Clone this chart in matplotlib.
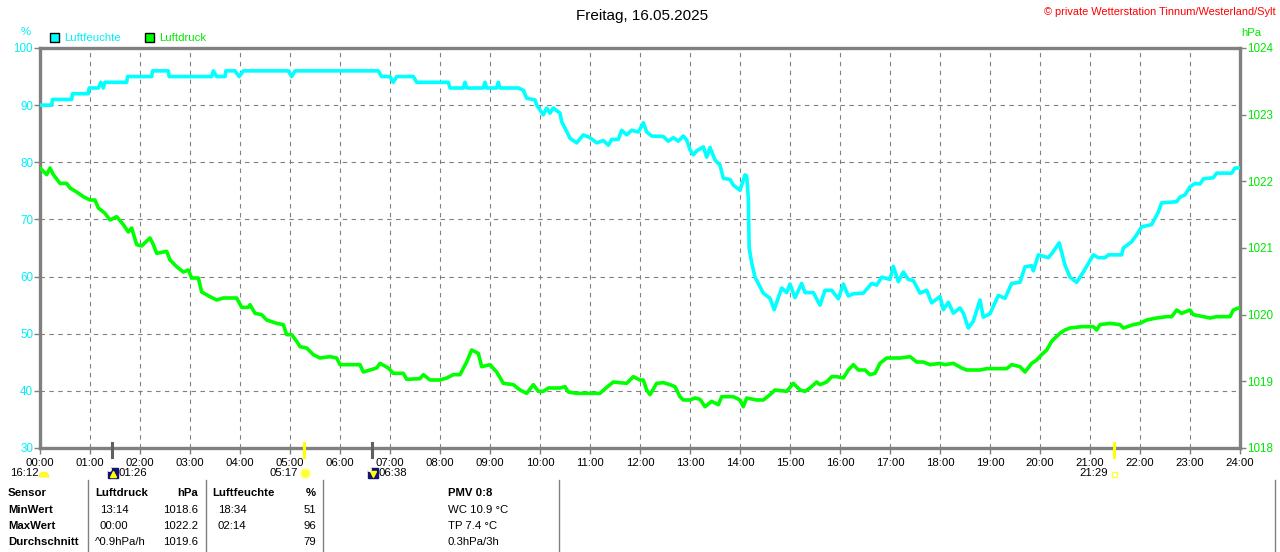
#!/usr/bin/env python3
# Wetterstation Tinnum - Tagesverlauf Luftfeuchte / Luftdruck, 16.05.2025
import matplotlib
matplotlib.use("Agg")
import matplotlib.pyplot as plt
import matplotlib.transforms as mtransforms
from matplotlib.patches import Rectangle, Wedge

plt.rcParams["font.family"] = ["Liberation Sans", "DejaVu Sans"]

# --- data (time in minutes after midnight) ---
hum_t = [0, 14, 15, 38, 39, 58, 59, 70, 73, 76, 78, 104, 105, 134, 135, 154, 155, 206, 208, 212,
         222, 223, 234, 239, 244, 298, 302, 306, 406, 410, 420, 424, 428, 448, 452, 490,
         492, 508, 510, 512, 532, 534, 536, 548, 550, 552, 574, 580, 584, 594, 596, 604,
         608, 612, 616, 624, 626, 632, 636, 644, 652, 660, 668, 676, 682, 686, 694, 698,
         704, 710, 718, 724, 728, 734, 748, 754, 760, 766, 772, 776, 780, 784, 788, 796,
         800, 804, 810, 816, 820, 828, 832, 840, 846, 848, 850, 851, 854, 858, 864, 868,
         876, 881, 890, 896, 900, 906, 914, 918, 928, 936, 942, 950, 958, 964, 970, 976,
         988, 998, 1004, 1010, 1020, 1024, 1030, 1036, 1042, 1048, 1056, 1064, 1070, 1080, 1084, 1090,
         1096, 1104, 1108, 1114, 1120, 1128, 1132, 1140, 1150, 1158, 1166, 1176, 1182, 1190, 1192, 1198,
         1210, 1214, 1223, 1230, 1236, 1244, 1252, 1264, 1270, 1278, 1282, 1298, 1300, 1310, 1316, 1322,
         1334, 1342, 1346, 1364, 1368, 1374, 1380, 1386, 1392, 1396, 1408, 1412, 1430, 1434, 1440]
hum_v = [90, 90, 91, 91, 92, 92, 93, 93, 94, 93, 94, 94, 95, 95, 96, 96, 95, 95, 96, 95,
         95, 96, 96, 95, 96, 96, 95, 96, 96, 95, 95, 94, 95, 95, 94, 94,
         93, 93, 94, 93, 93, 94, 93, 93, 94, 93, 93, 92.6, 91.2, 90.9, 90, 88.3,
         89.5, 88.6, 89.5, 88.6, 87.1, 85.4, 84.2, 83.4, 84.8, 84.3, 83.4, 83.8, 83.0, 84.0, 84.0, 85.6,
         84.8, 85.6, 85.3, 86.9, 85.3, 84.6, 84.5, 83.7, 84.3, 83.7, 84.6, 83.9, 82.2, 81.3, 82.0, 82.7,
         80.9, 82.6, 80.4, 79.5, 77.2, 77.0, 76.0, 75.1, 77.8, 77.6, 73.7, 65.0, 62.4, 59.9, 58.2, 57.1,
         56.2, 54.2, 58.0, 57.2, 58.7, 56.3, 58.8, 57.2, 57.2, 55.0, 57.6, 57.6, 56.1, 58.7, 56.6, 57.0,
         57.1, 58.8, 58.5, 59.9, 59.5, 61.8, 59.1, 60.8, 59.5, 59.3, 57.1, 57.6, 55.4, 56.5, 54.2, 55.5,
         53.6, 54.5, 53.6, 51.0, 52.2, 55.9, 52.9, 53.5, 56.7, 56.2, 58.8, 59.0, 61.7, 61.9, 61.0, 63.8,
         63.3, 64.0, 65.9, 62.0, 59.9, 59.0, 60.8, 63.8, 63.3, 63.3, 63.8, 63.8, 65.0, 66.1, 67.3, 68.7,
         69.1, 71.3, 72.9, 73.1, 73.9, 74.3, 75.7, 76.3, 76.2, 77.1, 77.3, 78.1, 78.1, 79.0, 79.0]

pres_t = [0, 8, 12, 16, 24, 32, 36, 44, 52, 60, 66, 70, 78, 84, 92, 100,
          106, 110, 116, 122, 126, 132, 136, 140, 152, 156, 164, 172, 178, 182, 190, 194,
          204, 212, 220, 228, 236, 242, 250, 252, 258, 266, 272, 284, 292, 296, 302, 308,
          312, 320, 328, 336, 348, 356, 360, 372, 384, 388, 404, 408, 418, 424, 436, 440,
          456, 460, 468, 480, 488, 496, 504, 512, 518, 526, 530, 540, 548, 556, 568, 576,
          584, 592, 598, 604, 610, 624, 630, 634, 644, 672, 680, 688, 704, 712, 720, 724,
          728, 732, 740, 748, 756, 762, 768, 772, 780, 786, 792, 798, 806, 814, 818, 832,
          840, 844, 848, 860, 868, 876, 882, 896, 904, 912, 918, 924, 932, 936, 944, 950,
          956, 964, 970, 976, 982, 990, 996, 1002, 1008, 1016, 1032, 1044, 1052, 1060, 1068, 1080,
          1086, 1096, 1106, 1112, 1128, 1136, 1148, 1160, 1166, 1176, 1182, 1190, 1196, 1202, 1208, 1214,
          1218, 1224, 1230, 1236, 1250, 1264, 1268, 1272, 1284, 1296, 1300, 1312, 1320, 1328, 1340, 1352,
          1358, 1364, 1370, 1380, 1384, 1396, 1404, 1412, 1428, 1432, 1438, 1440]
pres_v = [1022.2, 1022.1, 1022.2, 1022.1, 1021.97, 1021.97, 1021.9, 1021.84, 1021.77, 1021.72, 1021.72, 1021.6, 1021.52, 1021.42, 1021.47, 1021.35,
          1021.24, 1021.3, 1021.05, 1021.03, 1021.08, 1021.15, 1021.05, 1020.92, 1020.95, 1020.82, 1020.72, 1020.64, 1020.67, 1020.55, 1020.55, 1020.34,
          1020.27, 1020.22, 1020.25, 1020.25, 1020.25, 1020.11, 1020.11, 1020.15, 1020.02, 1020.0, 1019.92, 1019.87, 1019.85, 1019.7, 1019.7, 1019.6,
          1019.52, 1019.5, 1019.4, 1019.35, 1019.37, 1019.35, 1019.25, 1019.25, 1019.25, 1019.14, 1019.2, 1019.27, 1019.2, 1019.12, 1019.12, 1019.03,
          1019.04, 1019.1, 1019.02, 1019.02, 1019.05, 1019.1, 1019.1, 1019.29, 1019.47, 1019.42, 1019.22, 1019.25, 1019.14, 1018.97, 1018.95, 1018.87,
          1018.82, 1018.95, 1018.85, 1018.85, 1018.9, 1018.9, 1018.92, 1018.84, 1018.82, 1018.82, 1018.91, 1018.99, 1018.97, 1019.07, 1019.02, 1019.02,
          1018.87, 1018.8, 1018.97, 1018.98, 1018.95, 1018.92, 1018.77, 1018.72, 1018.72, 1018.75, 1018.73, 1018.62, 1018.7, 1018.65, 1018.77, 1018.77,
          1018.72, 1018.62, 1018.75, 1018.72, 1018.72, 1018.8, 1018.87, 1018.85, 1018.97, 1018.87, 1018.85, 1018.9, 1018.99, 1018.95, 1018.99, 1019.07,
          1019.07, 1019.05, 1019.17, 1019.25, 1019.17, 1019.17, 1019.1, 1019.12, 1019.27, 1019.35, 1019.35, 1019.37, 1019.29, 1019.29, 1019.25, 1019.27,
          1019.25, 1019.27, 1019.2, 1019.17, 1019.17, 1019.19, 1019.19, 1019.19, 1019.25, 1019.22, 1019.14, 1019.27, 1019.32, 1019.4, 1019.47, 1019.6,
          1019.65, 1019.72, 1019.77, 1019.8, 1019.82, 1019.82, 1019.77, 1019.85, 1019.87, 1019.85, 1019.8, 1019.85, 1019.87, 1019.92, 1019.95, 1019.97,
          1019.97, 1020.07, 1020.02, 1020.07, 1020.0, 1019.97, 1019.95, 1019.97, 1019.97, 1020.07, 1020.1, 1020.1]

hour_labels = [f"{h:02d}:00" for h in range(25)]

# sun / moon events shown on the time axis
event_times = [86, 317, 398, 1289]          # 01:26, 05:17, 06:38, 21:29
event_labels = ["01:26", "05:17", "06:38", "21:29"]
event_kinds = ["moonrise", "sunrise", "moonset", "sunset"]
prev_event_label = "16:12"

# statistics table
table_head = ["Sensor", "Luftdruck", "hPa", "Luftfeuchte", "%"]
row_names = ["MinWert", "MaxWert", "Durchschnitt"]
pres_when = ["13:14", "00:00", "^0.9hPa/h"]
pres_stat = ["1018.6", "1022.2", "1019.6"]
hum_when = ["18:34", "02:14", ""]
hum_stat = ["51", "96", "79"]
extra_head = "PMV 0:8"
extra_rows = ["WC 10.9 °C", "TP 7.4 °C", "0.3hPa/3h"]

CYAN, CYAN_T = "#00ffff", "#00f0f8"
GREEN, GREEN_T = "#00ff00", "#00e800"
GRAY = "#808080"
FS = 8.2

fig = plt.figure(figsize=(12.8, 5.52), dpi=100)
fig.patch.set_facecolor("white")
ax = fig.add_axes([40 / 1280, 104 / 552, 1200 / 1280, 400 / 552])
ax2 = ax.twinx()

ax.plot(hum_t, hum_v, color=CYAN, lw=2.6, zorder=3)
ax2.plot(pres_t, pres_v, color=GREEN, lw=2.6, zorder=3)

ax.set_xlim(0, 1440)
ax.set_ylim(30, 100)
ax2.set_ylim(1018, 1024)
ax.set_xticks(range(0, 1441, 60))
ax.set_xticklabels(hour_labels)
ax.set_yticks(range(30, 101, 10))
ax2.set_yticks(range(1018, 1025))

ax.set_axisbelow(True)
ax.grid(True, color=GRAY, ls=(0, (4, 4)), lw=0.8)
for s in ax.spines.values():
    s.set_color(GRAY)
    s.set_linewidth(2.4)
for s in ax2.spines.values():
    s.set_visible(False)

ax.tick_params(axis="y", length=4, width=1, color=GRAY, labelcolor=CYAN_T, labelsize=8.4, pad=1)
ax.tick_params(axis="x", length=4, width=1, color=GRAY, labelcolor="black", labelsize=FS, pad=3)
ax2.tick_params(axis="y", length=4, width=1, color=GRAY, labelcolor=GREEN_T, labelsize=8.4, pad=1)

# event ticks and icons on the time axis
trans = ax.get_xaxis_transform()
for t, lab, kind in zip(event_times, event_labels, event_kinds):
    is_sun = kind.startswith("sun")
    ax.plot([t, t], [-0.0225, 0.0125], transform=trans, clip_on=False,
            color="#ffff00" if is_sun else "#606060", lw=2.2, zorder=6)
    icon = mtransforms.offset_copy(trans, fig=fig, x=1, y=-25, units="dots")
    if kind == "moonrise" or kind == "moonset":
        ax.plot([t], [0], transform=icon, marker="s", ms=7.5, mfc="#141470", mec="#141470", clip_on=False)
        ax.plot([t], [0], transform=mtransforms.offset_copy(trans, fig=fig, x=1, y=-26, units="dots"),
                marker="^" if kind == "moonrise" else "v", ms=4.5, mfc="#ffff00", mec="#ffff00", clip_on=False)
        ax.plot([t], [0], transform=mtransforms.offset_copy(trans, fig=fig, x=-3, y=-21, units="dots"),
                marker="o", ms=2.5, mfc="white", mec="white", clip_on=False)
        ax.annotate(lab, xy=(t, 0), xycoords=trans, xytext=(7, -25), textcoords="offset pixels",
                    ha="left", va="center", fontsize=FS, annotation_clip=False)
    elif kind == "sunrise":
        ax.plot([t], [0], transform=icon, marker=(12, 1, 0), ms=8, mfc="#ffffa0", mec="#ffff80", clip_on=False)
        ax.plot([t], [0], transform=icon, marker="o", ms=4.5, mfc="#ffff30", mec="#ffff30", clip_on=False)
        ax.annotate(lab, xy=(t, 0), xycoords=trans, xytext=(-6, -25), textcoords="offset pixels",
                    ha="right", va="center", fontsize=FS, annotation_clip=False)
    else:
        ax.plot([t], [0], transform=mtransforms.offset_copy(trans, fig=fig, x=0, y=-26, units="dots"),
                marker="s", ms=3.6, mfc="white", mec="#ffff40", mew=1, clip_on=False)
        ax.annotate(lab, xy=(t, 0), xycoords=trans, xytext=(-6, -25), textcoords="offset pixels",
                    ha="right", va="center", fontsize=FS, annotation_clip=False)

# overlay in pixel coordinates for header, legend and table
ov = fig.add_axes([0, 0, 1, 1])
ov.set_xlim(0, 1280)
ov.set_ylim(552, 0)
ov.axis("off")
ov.patch.set_alpha(0)

ov.text(642, 16, "Freitag, 16.05.2025", ha="center", va="center", fontsize=11)
ov.text(1276, 12, "© private Wetterstation Tinnum/Westerland/Sylt", ha="right", va="center",
        fontsize=7.9, color="red")
ov.text(26, 32, "%", ha="center", va="center", fontsize=FS, color=CYAN_T)
ov.text(1241, 33, "hPa", ha="left", va="center", fontsize=FS, color=GREEN_T)

ov.add_patch(Rectangle((50, 33), 9, 9, fc=CYAN, ec="black", lw=1))
ov.text(64, 38, "Luftfeuchte", ha="left", va="center", fontsize=FS, color=CYAN_T)
ov.add_patch(Rectangle((145, 33), 9, 9, fc=GREEN, ec="black", lw=1))
ov.text(159, 38, "Luftdruck", ha="left", va="center", fontsize=FS, color=GREEN_T)

ov.text(10, 473, prev_event_label, ha="left", va="center", fontsize=FS)
ov.add_patch(Wedge((44, 477), 5, 180, 360, fc="#ffff30", ec="#ffee00", lw=0.5))

# table
rows_y = [510, 526, 542]
ov.text(8, 493, table_head[0], fontsize=FS, fontweight="bold", va="center")
ov.text(95, 493, table_head[1], fontsize=FS, fontweight="bold", va="center")
ov.text(198, 493, table_head[2], fontsize=FS, fontweight="bold", va="center", ha="right")
ov.text(212, 493, table_head[3], fontsize=FS, fontweight="bold", va="center")
ov.text(316, 493, table_head[4], fontsize=FS, fontweight="bold", va="center", ha="right")
for i, y in enumerate(rows_y):
    ov.text(8, y, row_names[i], fontsize=FS, fontweight="bold", va="center")
    wx = 95 if pres_when[i].startswith("^") else 100
    ov.text(wx, y, pres_when[i], fontsize=FS, va="center")
    ov.text(198, y, pres_stat[i], fontsize=FS, va="center", ha="right")
    ov.text(218, y, hum_when[i], fontsize=FS, va="center")
    ov.text(316, y, hum_stat[i], fontsize=FS, va="center", ha="right")
    ov.text(448, y, extra_rows[i], fontsize=FS, va="center")
ov.text(448, 493, extra_head, fontsize=FS, fontweight="bold", va="center")
for x in [88, 206, 323, 559, 1275]:
    ov.plot([x, x], [480, 552], color=GRAY, lw=1)

fig.savefig("out.png", dpi=100, facecolor="white")
